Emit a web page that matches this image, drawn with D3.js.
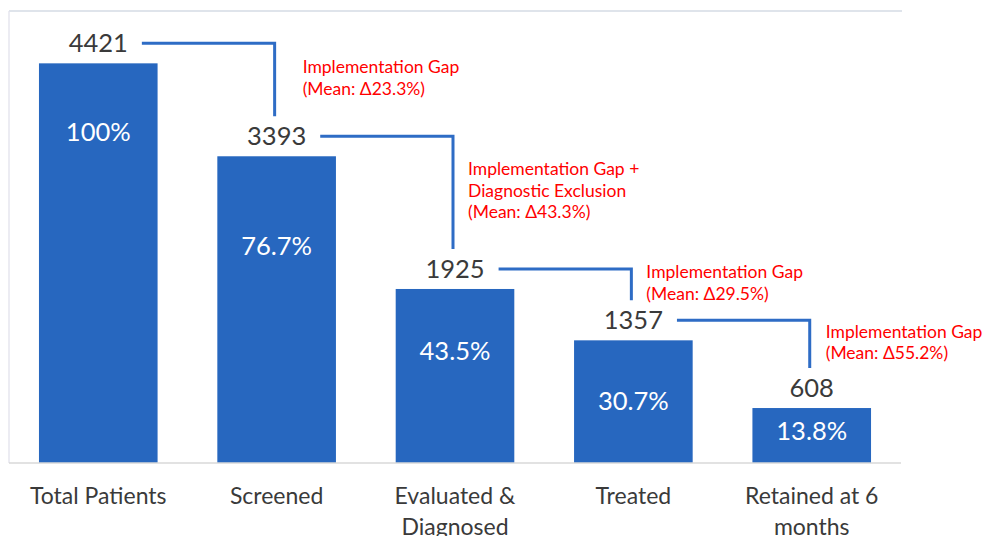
<!DOCTYPE html>
<html>
<head>
<meta charset="utf-8">
<script src="https://cdn.jsdelivr.net/npm/d3@7"></script>
<style>
  html, body { margin: 0; padding: 0; background: #fff; }
  svg { display: block; }
  text { font-family: Lato, "Open Sans", sans-serif; }
</style>
</head>
<body>
<svg id="chart" width="987" height="536"></svg>
<script>
// ---- Data ----
const categories = ["Total Patients", "Screened", "Evaluated & Diagnosed", "Treated", "Retained at 6 months"];
const categoryLines = [["Total Patients"], ["Screened"], ["Evaluated &", "Diagnosed"], ["Treated"], ["Retained at 6", "months"]];
const patients = [4421, 3393, 1925, 1357, 608];
const percentLabels = ["100%", "76.7%", "43.5%", "30.7%", "13.8%"];
const gapLabels = [
  ["Implementation Gap", "(Mean: \u039423.3%)"],
  ["Implementation Gap +", "Diagnostic Exclusion", "(Mean: \u039443.3%)"],
  ["Implementation Gap", "(Mean: \u039429.5%)"],
  ["Implementation Gap", "(Mean: \u039455.2%)"]
];
const yMax = 5000;

// ---- Layout / style ----
const W = 987, H = 536;
const plot = { left: 9, right: 901, top: 11, bottom: 463 };
const barColor = "#2767BF";
const lineColor = "#2E6CC5";
const textColor = "#3A3A3A";
const red = "#FF0000";
const pctLabelDy = [78, 99, 71, 70, 32];   // baseline offset from bar top
const gapDx = [28, 15, 15, 16];            // annotation offset from connector

const svg = d3.select("#chart");

const x = d3.scaleBand().domain(categories).range([plot.left, plot.right])
  .paddingInner(0.335).paddingOuter(0.168);
const y = d3.scaleLinear().domain([0, yMax]).range([plot.bottom, plot.top]);

// frame lines
svg.append("line").attr("x1", plot.left).attr("x2", plot.right + 1)
  .attr("y1", y(yMax)).attr("y2", y(yMax)).attr("stroke", "#d5dbe4").attr("stroke-width", 1.3);
svg.append("line").attr("x1", plot.left).attr("x2", plot.left)
  .attr("y1", y(yMax)).attr("y2", y(0)).attr("stroke", "#e2e2ec").attr("stroke-width", 1.3);

// bars
svg.selectAll("rect.bar").data(patients).join("rect")
  .attr("class", "bar")
  .attr("x", (d, i) => x(categories[i]))
  .attr("y", d => y(d))
  .attr("width", x.bandwidth())
  .attr("height", d => y(0) - y(d))
  .attr("fill", barColor);

// baseline (x axis)
const xAxis = svg.append("g").attr("transform", `translate(0,${y(0)})`)
  .call(d3.axisBottom(x).tickSize(0).tickFormat(""));
xAxis.select(".domain").attr("stroke", "#d9d9d9").attr("stroke-width", 1.5)
  .attr("d", `M${plot.left},0H${plot.right}`);

// axis labels
categories.forEach((c, i) => {
  const t = svg.append("text")
    .attr("x", x(c) + x.bandwidth() / 2)
    .attr("y", y(0) + 41)
    .attr("text-anchor", "middle")
    .attr("font-size", 23)
    .attr("fill", textColor);
  categoryLines[i].forEach((ln, k) => {
    t.append("tspan").attr("x", x(c) + x.bandwidth() / 2).attr("dy", k === 0 ? 0 : 31).text(ln);
  });
});

// value labels
const valueBaseline = d => y(d) - 11;
const valueText = svg.selectAll("text.val").data(patients).join("text")
  .attr("class", "val")
  .attr("x", (d, i) => x(categories[i]) + x.bandwidth() / 2)
  .attr("y", d => valueBaseline(d))
  .attr("text-anchor", "middle")
  .attr("font-size", 25.5)
  .attr("fill", textColor)
  .text(d => d);

// percent labels
svg.selectAll("text.pct").data(patients).join("text")
  .attr("class", "pct")
  .attr("x", (d, i) => x(categories[i]) + x.bandwidth() / 2)
  .attr("y", (d, i) => y(d) + pctLabelDy[i])
  .attr("text-anchor", "middle")
  .attr("font-size", 25.5)
  .attr("fill", "#ffffff")
  .text((d, i) => percentLabels[i]);

// connectors + annotations
const widths = valueText.nodes().map(n => n.getBBox().width);
for (let i = 0; i < patients.length - 1; i++) {
  const cx = x(categories[i]) + x.bandwidth() / 2;
  const nx = x(categories[i + 1]) + x.bandwidth() / 2 - 2;
  const x0 = cx + widths[i] / 2 + 14;
  const y0 = valueBaseline(patients[i]) - 9;
  const y1 = valueBaseline(patients[i + 1]) - 29;
  svg.append("path")
    .attr("d", `M${x0},${y0}H${nx}V${y1}`)
    .attr("fill", "none").attr("stroke", lineColor).attr("stroke-width", 3);

  const lines = gapLabels[i];
  const lh = 21.5;
  const mid = (y0 + y1) / 2;
  const firstBase = mid - (lines.length * lh) / 2 + 15;
  const t = svg.append("text")
    .attr("x", nx + gapDx[i])
    .attr("y", firstBase)
    .attr("font-size", 17.5)
    .attr("fill", red);
  lines.forEach((ln, k) => {
    t.append("tspan").attr("x", nx + gapDx[i]).attr("dy", k === 0 ? 0 : lh).text(ln);
  });
}
</script>
</body>
</html>
